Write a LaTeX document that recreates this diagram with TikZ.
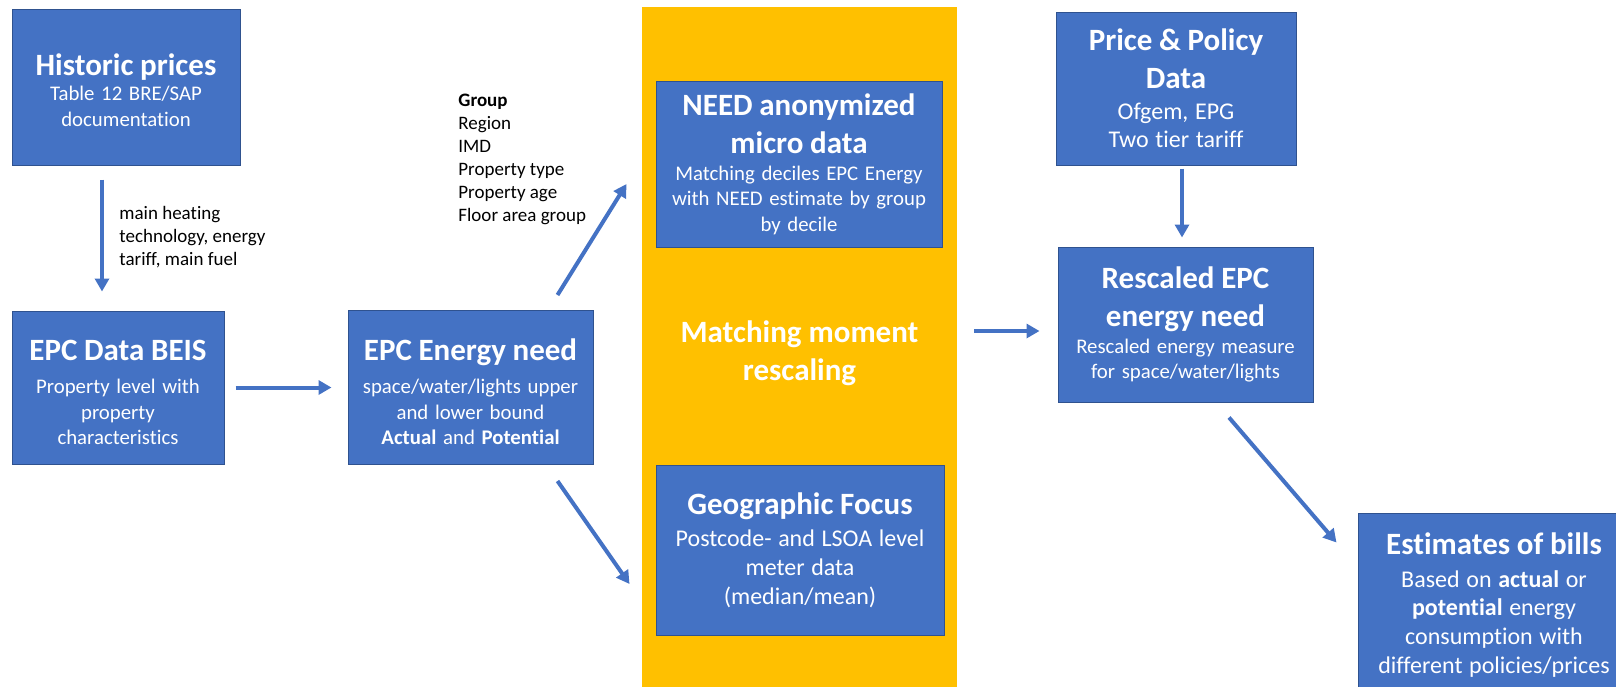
\documentclass[tikz,border=0pt]{standalone}
\usepackage{fontspec}
\setmainfont{Carlito}[Ligatures=NoCommon]
\usepackage{tikz}
\usetikzlibrary{calc,arrows.meta}
\definecolor{boxblue}{HTML}{4472C4}
\definecolor{boxedge}{HTML}{2F528F}
\definecolor{gold}{HTML}{FFC000}
\newcommand{\ttl}{\fontsize{15.5}{19}\selectfont\bfseries}
\newcommand{\sml}{\fontsize{10.4}{12.7}\selectfont}
\newcommand{\bgr}{\fontsize{12}{14.3}\selectfont}
\newcommand{\tall}[1]{\rule{0pt}{#1}}
\setlength{\parindent}{0pt}

\begin{document}
\begin{tikzpicture}[x=.5pt,y=-.5pt,
    box/.style={draw=boxedge, line width=.5pt, fill=boxblue, text=white, inner sep=0pt, align=center},
    arr/.style={draw=boxblue, line width=2pt, -{Triangle[width=7pt,length=6.5pt]}},
    lbl/.style={anchor=west, align=left, inner sep=0pt, font=\fontsize{9.5}{11.5}\selectfont}]
    \useasboundingbox (0,0) rectangle (1616,686);
    \clip (0,0) rectangle (1616,686);
    % rescaling column
        \node (match) at (799.5,353.5) [fill=gold, text=white, inner sep=0pt, align=center, font=\ttl,
            minimum width=157.5pt, minimum height=346.5pt] {Matching moment\\rescaling};

    % boxes
        \node (hist) at (126,87) [box, text width=114pt, minimum height=78pt]
            {{\ttl\tall{14pt}Historic prices\par}{\sml Table 12 BRE/SAP\\documentation\par}};
        \node (epcdata) at (118,387.5) [box, text width=106pt, minimum height=76.5pt]
            {{\ttl\tall{15pt}EPC Data BEIS\par}\vspace{4pt}{\sml Property level with\\property\\characteristics\par}};
        \node (epcneed) at (470.5,387.5) [box, text width=122.5pt, minimum height=77pt]
            {{\ttl\tall{15pt}EPC Energy need\par}\vspace{4pt}{\sml space/water/lights upper\\and lower bound\\\textbf{Actual} and \textbf{Potential}\par}};
        \node (need) at (799,164) [box, text width=143pt, minimum height=83pt]
            {{\ttl NEED anonymized\\micro data\par}\vspace{1pt}{\sml Matching deciles EPC Energy\\with NEED estimate by group\\by decile\par}};
        \node (geo) at (800,550) [box, text width=144pt, minimum height=85pt]
            {{\ttl Geographic Focus\par}\vspace{2pt}{\bgr Postcode- and LSOA level\\meter data\\(median/mean)\par}};
        \node (price) at (1176,88.5) [box, text width=120pt, minimum height=76.5pt]
            {{\ttl Price \& Policy\\Data\par}\vspace{1pt}{\bgr Ofgem, EPG\\Two tier tariff\par}};
        \node (rescaled) at (1185.5,324.5) [box, text width=127.5pt, minimum height=77.5pt]
            {{\ttl Rescaled EPC\\energy need\par}\vspace{1pt}{\sml Rescaled energy measure\\for space/water/lights\par}};
        \node (bills) at (1494,605) [box, text width=136pt, minimum height=92pt]
            {{\ttl Estimates of bills\par}\vspace{2pt}{\bgr Based on \textbf{actual} or\\\textbf{potential} energy\\consumption with\\different policies/prices\par}};

    % side notes
        \node (heat) at (119,237) [lbl] {main heating\\technology, energy\\tariff, main fuel};
        \node (grp) at (458,159.5) [lbl] {\textbf{Group}\\Region\\IMD\\Property type\\Property age\\Floor area group};

    % arrows
        \draw[arr] ($(hist.south)+(-24,14)$) -- ($(epcdata.north)+(-16,-19)$);
        \draw[arr] ($(epcdata.east)+(11,0)$) -- ($(epcneed.west)+(-16,0)$);
        \draw[arr] ($(epcneed.north east)+(-36,-15)$) -- ($(need.west)+(-29,20)$);
        \draw[arr] ($(epcneed.south east)+(-36,16)$) -- ($(geo.west)+(-26,34)$);
        \draw[arr] ($(match.east)+(17,-22.5)$) -- ($(rescaled.west)+(-18,6.5)$);
        \draw[arr] ($(price.south)+(6,3)$) -- ($(rescaled.north)+(-3.5,-9)$);
        \draw[arr] ($(rescaled.south)+(43.5,15)$) -- ($(bills.north west)+(-21,30)$);
\end{tikzpicture}
\end{document}
